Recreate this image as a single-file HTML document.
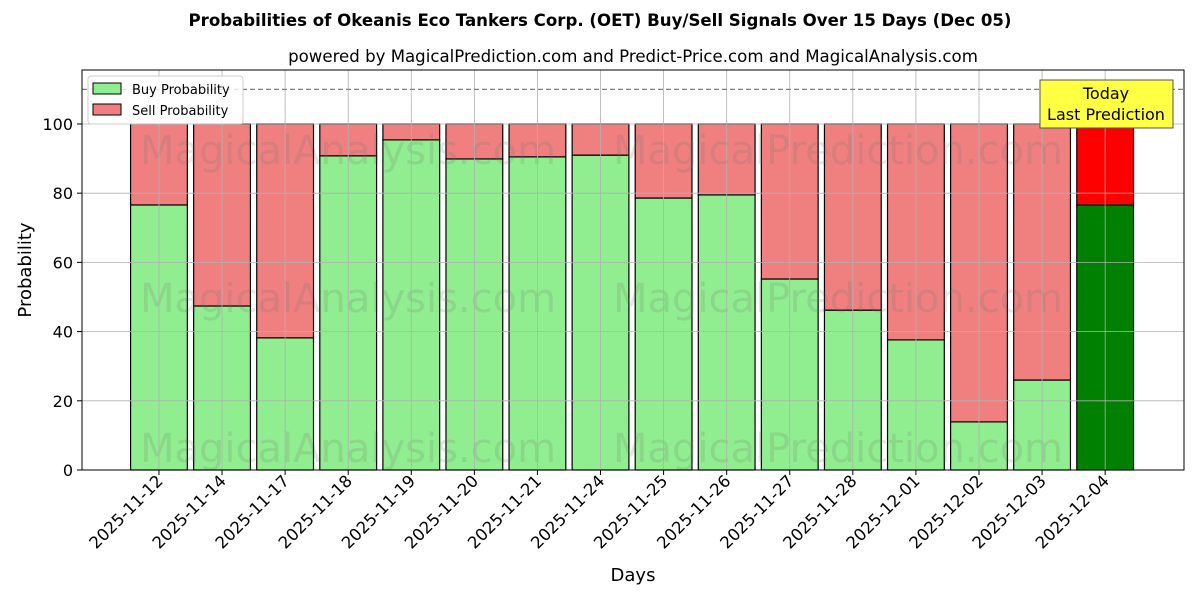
<!DOCTYPE html>
<html><head><meta charset="utf-8"><style>
body{margin:0;background:#fff;font-family:"DejaVu Sans","Liberation Sans",sans-serif;}
svg{display:block}
</style></head><body>
<svg id="chart" width="1200" height="600" xmlns="http://www.w3.org/2000/svg" font-family="DejaVu Sans, Liberation Sans, sans-serif">
<text x="600" y="26" text-anchor="middle" font-size="16.6" font-weight="bold">Probabilities of Okeanis Eco Tankers Corp. (OET) Buy/Sell Signals Over 15 Days (Dec 05)</text>
<text x="633" y="62" text-anchor="middle" font-size="16.6">powered by MagicalPrediction.com and Predict-Price.com and MagicalAnalysis.com</text>
<g id="plot"></g>
</svg>
<script>
const categories=["2025-11-12","2025-11-14","2025-11-17","2025-11-18","2025-11-19","2025-11-20","2025-11-21","2025-11-24","2025-11-25","2025-11-26","2025-11-27","2025-11-28","2025-12-01","2025-12-02","2025-12-03","2025-12-04"];
const buyValues=[76.6,47.4,38.2,90.8,95.4,89.9,90.5,91.0,78.6,79.5,55.2,46.2,37.6,13.9,26.0,76.6];
const yTicks=[0,20,40,60,80,100];
const L=82,R=1184,T=70,B=470;
const xMin=-1.22,xMax=16.25,yMin=0,yMax=115.6;
const xs=v=>L+(v-xMin)/(xMax-xMin)*(R-L);
const ys=v=>B-(v-yMin)/(yMax-yMin)*(B-T);
const NS="http://www.w3.org/2000/svg";
const g=document.getElementById('plot');
function mk(tag,attrs,parent){const e=document.createElementNS(NS,tag);for(const k in attrs)e.setAttribute(k,attrs[k]);(parent||g).appendChild(e);return e;}
const bw=0.9;
categories.forEach((c,i)=>{
 const last=i===categories.length-1;
 const x0=xs(i-bw/2),x1=xs(i+bw/2);
 const b=mk('rect',{x:x0,y:ys(buyValues[i]),width:x1-x0,height:ys(0)-ys(buyValues[i]),fill:last?'#008000':'#90ee90',stroke:'#000','stroke-width':1.2});
 
 
 const s=mk('rect',{x:x0,y:ys(100),width:x1-x0,height:ys(buyValues[i])-ys(100),fill:last?'#ff0000':'#f08080',stroke:'#000','stroke-width':1.2});
 
 
});
// watermarks
[150,298,448].forEach(r=>{
 [["MagicalAnalysis.com",348],["MagicalPrediction.com",838]].forEach(w=>{
  const t=mk('text',{x:w[1],y:r+14,'text-anchor':'middle','font-size':40,fill:'rgba(110,110,110,0.18)'});
  
  
  t.textContent=w[0];
 });
});
categories.forEach((c,i)=>{
 const l=mk('line',{x1:xs(i),x2:xs(i),y1:T,y2:B,stroke:'#b0b0b0','stroke-width':0.8});
 
 
 const tk=mk('line',{x1:xs(i),x2:xs(i),y1:B,y2:B+5,stroke:'#000'});
 
 
 const t=mk('text',{x:0,y:0,'text-anchor':'end','font-size':16.5,transform:`translate(${xs(i)+5},${B+12}) rotate(-45)`});
 
 
 t.textContent=c;
});
yTicks.forEach(v=>{
 const l=mk('line',{x1:L,x2:R,y1:ys(v),y2:ys(v),stroke:'#b0b0b0','stroke-width':0.8});
 
 
 const tk=mk('line',{x1:L-5,x2:L,y1:ys(v),y2:ys(v),stroke:'#000'});
 
 
 const t=mk('text',{x:L-9,y:ys(v)+6,'text-anchor':'end','font-size':16});
 
 
 t.textContent=v;
});
const dl=mk('line',{x1:L,x2:R,y1:ys(110),y2:ys(110),stroke:'#808080','stroke-width':1.2,'stroke-dasharray':'5,3'});


const fr=mk('rect',{x:L,y:T,width:R-L,height:B-T,fill:'none',stroke:'#000','stroke-width':1});


const xt=mk('text',{x:(L+R)/2,y:581,'text-anchor':'middle','font-size':18});


xt.textContent='Days';
const yt=mk('text',{x:0,y:0,'text-anchor':'middle','font-size':18,transform:`translate(31,${(T+B)/2}) rotate(-90)`});


yt.textContent='Probability';
const lg=mk('g',{});


mk('rect',{x:88,y:76,width:155,height:48,rx:3,fill:'rgba(255,255,255,0.8)',stroke:'#ccc'},lg);
[['Buy Probability','#90ee90',83],['Sell Probability','#f08080',104]].forEach(e=>{
 const r=mk('rect',{x:93,y:e[2],width:28,height:11,fill:e[1],stroke:'#000'},lg);
 
 
 const t=mk('text',{x:132,y:e[2]+11,'font-size':13},lg);
 
 
 t.textContent=e[0];
});
const an=mk('g',{});


mk('rect',{x:1040,y:80,width:133,height:48,fill:'#ffff44',stroke:'#555'},an);
[['Today',99],['Last Prediction',120]].forEach(e=>{
 const t=mk('text',{x:1106,y:e[1],'text-anchor':'middle','font-size':16},an);
 
 
 t.textContent=e[0];
});
</script>
</body></html>
